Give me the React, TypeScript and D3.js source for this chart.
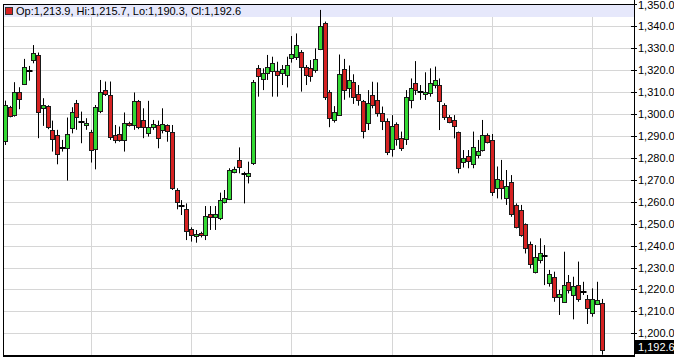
import React from "react";
import * as d3 from "d3";

const opens = [
  1287.8, 1303.0, 1299.3, 1309.8, 1313.6, 1319.3, 1324.5, 1326.8, 1302.5, 1303.4,
  1292.7, 1290.2, 1284.6, 1284.3, 1293.4, 1304.8, 1296.4, 1294.8, 1291.9, 1283.8,
  1301.2, 1310.7, 1308.4, 1290.2, 1290.8, 1288.1, 1296.0, 1294.8, 1306.0, 1297.2,
  1291.4, 1294.2, 1294.9, 1292.7, 1294.9, 1291.6, 1265.3, 1258.0, 1256.5, 1247.4,
  1244.4, 1245.6, 1244.8, 1254.2, 1252.8, 1252.4, 1260.0, 1261.0, 1273.3, 1278.9,
  1272.4, 1271.7, 1277.7, 1320.7, 1315.7, 1318.4, 1319.5, 1319.6, 1318.4, 1317.7,
  1325.3, 1326.0, 1328.3, 1321.5, 1320.7, 1319.9, 1329.3, 1341.5, 1310.0, 1297.0,
  1299.6, 1320.3, 1311.6, 1314.3, 1308.9, 1306.0, 1295.7, 1308.6, 1306.1, 1300.2,
  1296.7, 1284.0, 1295.2, 1288.8, 1288.5, 1306.3, 1313.9, 1310.1, 1308.9, 1309.3,
  1313.1, 1313.1, 1304.0, 1298.7, 1297.2, 1291.5, 1277.9, 1280.8, 1277.0, 1281.2,
  1283.5, 1290.3, 1288.1, 1266.2, 1269.8, 1261.5, 1269.1, 1258.5, 1256.2, 1249.8,
  1240.7, 1228.1, 1233.4, 1235.3, 1222.8, 1225.5, 1216.7, 1214.4, 1223.2, 1217.5,
  1222.0, 1219.0, 1215.5, 1209.1, 1213.4, 1213.9,
];
const highs = [
  1306.0, 1303.6, 1314.4, 1312.1, 1325.0, 1321.8, 1331.3, 1327.9, 1307.1, 1303.9,
  1296.9, 1292.7, 1288.1, 1298.3, 1303.0, 1306.3, 1301.0, 1298.0, 1292.7, 1304.0,
  1315.4, 1314.7, 1314.7, 1294.9, 1294.2, 1300.6, 1296.4, 1309.7, 1306.3, 1302.5,
  1305.9, 1297.2, 1296.9, 1302.5, 1295.2, 1294.9, 1266.1, 1260.7, 1259.2, 1248.3,
  1247.1, 1246.3, 1258.0, 1258.0, 1258.0, 1264.1, 1265.3, 1275.2, 1275.9, 1284.7,
  1273.6, 1278.2, 1315.4, 1322.2, 1320.7, 1326.8, 1326.0, 1323.7, 1322.2, 1326.0,
  1335.4, 1336.6, 1329.0, 1322.2, 1324.5, 1329.8, 1347.3, 1342.0, 1310.8, 1303.5,
  1327.0, 1325.0, 1322.0, 1318.0, 1313.1, 1306.3, 1310.8, 1314.6, 1314.3, 1303.3,
  1297.9, 1299.4, 1296.1, 1291.9, 1310.8, 1316.1, 1324.0, 1313.1, 1318.9, 1320.7,
  1321.5, 1316.1, 1304.8, 1299.4, 1299.4, 1291.9, 1283.5, 1283.5, 1291.9, 1288.1,
  1297.2, 1291.1, 1290.8, 1276.0, 1279.0, 1274.4, 1272.1, 1259.2, 1258.5, 1250.1,
  1241.8, 1240.2, 1243.3, 1240.2, 1228.9, 1228.1, 1219.8, 1237.2, 1226.6, 1225.8,
  1232.7, 1223.5, 1217.5, 1220.5, 1223.5, 1215.7,
];
const lows = [
  1285.8, 1298.4, 1298.7, 1302.1, 1313.1, 1315.1, 1323.0, 1288.9, 1294.5, 1293.0,
  1282.8, 1277.0, 1282.8, 1269.6, 1291.1, 1292.7, 1286.6, 1292.7, 1277.8, 1274.7,
  1300.3, 1308.1, 1288.1, 1286.6, 1287.3, 1282.8, 1294.2, 1292.7, 1293.0, 1288.9,
  1289.6, 1292.7, 1284.3, 1291.1, 1287.3, 1265.3, 1256.5, 1253.9, 1242.5, 1241.8,
  1241.3, 1243.7, 1242.5, 1247.1, 1247.1, 1251.6, 1259.2, 1260.7, 1272.9, 1272.9,
  1259.2, 1268.3, 1276.7, 1307.8, 1310.8, 1315.4, 1307.8, 1307.8, 1313.1, 1312.0,
  1323.3, 1324.5, 1310.1, 1313.1, 1314.6, 1318.7, 1329.0, 1306.3, 1293.9, 1296.0,
  1299.2, 1306.4, 1307.4, 1304.5, 1303.7, 1288.8, 1292.6, 1302.5, 1298.7, 1292.6,
  1281.2, 1280.5, 1285.5, 1283.1, 1285.8, 1302.5, 1308.6, 1306.3, 1306.3, 1307.8,
  1311.6, 1292.6, 1297.2, 1295.7, 1288.8, 1272.9, 1275.5, 1275.2, 1275.2, 1279.7,
  1282.8, 1286.5, 1262.6, 1261.5, 1261.0, 1258.5, 1253.1, 1247.8, 1244.0, 1236.4,
  1229.6, 1227.3, 1231.9, 1222.0, 1221.3, 1214.4, 1208.4, 1214.0, 1218.2, 1206.4,
  1214.4, 1217.5, 1204.3, 1207.6, 1212.9, 1190.3,
];
const closes = [
  1303.9, 1299.0, 1309.8, 1306.6, 1321.2, 1319.3, 1327.9, 1300.7, 1303.9, 1294.2,
  1288.7, 1281.6, 1284.6, 1290.7, 1300.7, 1298.7, 1296.4, 1295.7, 1283.5, 1303.0,
  1309.8, 1309.0, 1289.3, 1288.1, 1288.1, 1296.0, 1295.1, 1306.0, 1294.2, 1293.9,
  1294.2, 1295.2, 1288.9, 1295.5, 1292.2, 1266.1, 1260.0, 1258.0, 1246.6, 1244.8,
  1245.1, 1244.6, 1253.6, 1252.8, 1254.2, 1260.7, 1261.8, 1274.4, 1274.9, 1275.6,
  1272.4, 1273.2, 1314.3, 1317.2, 1318.4, 1321.5, 1323.0, 1317.7, 1320.2, 1322.2,
  1327.2, 1331.3, 1321.5, 1317.7, 1317.2, 1324.9, 1340.0, 1307.8, 1297.9, 1300.6,
  1318.0, 1310.8, 1315.2, 1307.6, 1306.1, 1292.3, 1304.8, 1304.0, 1300.2, 1296.7,
  1282.4, 1294.6, 1288.5, 1284.6, 1307.8, 1311.9, 1310.8, 1310.1, 1310.1, 1313.9,
  1315.4, 1305.8, 1298.7, 1296.1, 1294.6, 1275.2, 1279.7, 1278.5, 1284.7, 1283.2,
  1290.3, 1287.3, 1264.5, 1270.1, 1266.0, 1266.9, 1254.2, 1248.3, 1244.8, 1238.7,
  1231.6, 1234.9, 1236.5, 1235.3, 1227.0, 1216.4, 1217.9, 1222.0, 1219.8, 1221.7,
  1215.5, 1219.0, 1211.4, 1215.5, 1215.2, 1192.6,
];

const priceTicks = d3.range(1200, 1351, 10);
const gridCandles = [18, 39, 60, 81, 102, 123];
const legendText = "Op:1,213.9, Hi:1,215.7, Lo:1,190.3, Cl:1,192.6";
const lastPriceText = "1,192.6";

const W = 674;
const H = 359;
const FONT = "'Liberation Sans', Arial, sans-serif";

export default function App() {
  const N = closes.length;
  const step = 4.776;
  const x = d3
    .scaleBand<number>()
    .domain(d3.range(N))
    .range([2.34, 2.34 + N * step])
    .padding(0);
  const cx = (i: number) => (x(i) as number) + x.bandwidth() / 2;
  const y = d3.scaleLinear().domain([1200, 1350]).range([333.4, 4]);

  const left = 3;
  const right = 634;
  const top = 4.5;
  const bottom = 355;
  const fmt = d3.format(",.1f");

  return (
    <svg
      width={W}
      height={H}
      style={{ position: "absolute", left: 0, top: 0, display: "block" }}
      fontFamily={FONT}
    >
      <rect x={0} y={0} width={W} height={H} fill="#ffffff" />
      {priceTicks.map((v) => {
        const yy = Math.round(y(v)) + 0.5;
        return (
          <line key={"h" + v} x1={left} x2={right} y1={yy} y2={yy} stroke="#d6d6d6" strokeWidth={1} />
        );
      })}
      {gridCandles.map((i) => {
        const xx = Math.round(cx(i)) + 0.5;
        return (
          <line key={"v" + i} x1={xx} x2={xx} y1={top} y2={bottom} stroke="#d6d6d6" strokeWidth={1} />
        );
      })}
      <rect x={left} y={top} width={right - left} height={17 - top} fill="#e6e8fb" />
      {closes.map((c, i) => {
        const o = opens[i];
        const hi = highs[i];
        const lo = lows[i];
        const xc = Math.round(cx(i));
        const wickX = xc + 0.5;
        const doji = Math.abs(o - c) < 0.3;
        const yTop = y(Math.max(o, c));
        const yBot = y(Math.min(o, c));
        return (
          <g key={"c" + i}>
            <line x1={wickX} x2={wickX} y1={y(hi)} y2={y(lo)} stroke="#000" strokeWidth={1} />
            {doji ? (
              <rect x={xc - 2.5} y={Math.round(y(o)) - 1} width={6} height={2} fill="#000" />
            ) : (
              <rect
                x={xc - 1.5}
                y={Math.round(yTop) + 0.5}
                width={4}
                height={Math.max(1, Math.round(yBot) - Math.round(yTop))}
                fill={c > o ? "#33d933" : "#d62222"}
                stroke="#1a1a1a"
                strokeWidth={1}
              />
            )}
          </g>
        );
      })}
      <line x1={left} x2={right} y1={top} y2={top} stroke="#000" strokeWidth={1} />
      <line x1={left + 0.5} x2={left + 0.5} y1={top} y2={bottom + 2} stroke="#000" strokeWidth={1} />
      <line x1={left} x2={right + 1} y1={bottom + 1} y2={bottom + 1} stroke="#000" strokeWidth={2} />
      <line x1={right + 0.5} x2={right + 0.5} y1={0} y2={bottom + 2} stroke="#000" strokeWidth={1} />
      {priceTicks.map((v) => {
        const yy = Math.round(y(v)) + 0.5;
        const ty = Math.max(yy, 5.5);
        return (
          <g key={"t" + v}>
            <line x1={right - 3} x2={right + 3} y1={yy} y2={yy} stroke="#000" strokeWidth={1} />
            <text x={right + 4} y={ty} dy="0.35em" fontSize={11} fill="#000">
              {fmt(v)}
            </text>
          </g>
        );
      })}
      <rect x={right + 1} y={340} width={W - right - 1} height={14} fill="#000" />
      <text x={right + 4} y={347} dy="0.35em" fontSize={11} fill="#fff">
        {lastPriceText}
      </text>
      <rect x={5.5} y={7.5} width={7} height={7} fill="#d62222" stroke="#333" strokeWidth={1} />
      <text x={16} y={15} fontSize={11} fill="#000">
        {legendText}
      </text>
    </svg>
  );
}
